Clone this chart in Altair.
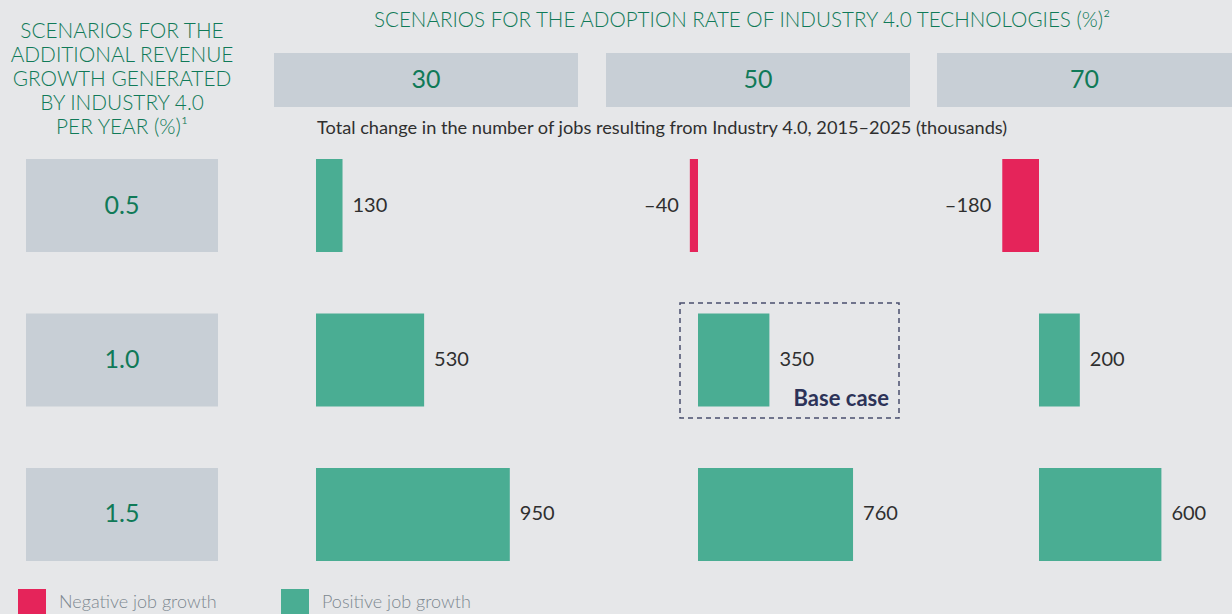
import altair as alt
import pandas as pd

# ---------------- data ----------------
adoption_rates = ["30", "50", "70"]          # % adoption scenarios (columns)
revenue_growth = ["0.5", "1.0", "1.5"]       # % additional revenue growth (rows)
jobs_row_05 = [130, -40, -180]
jobs_row_10 = [530, 350, 200]
jobs_row_15 = [950, 760, 600]
legend_labels = ["Negative job growth", "Positive job growth"]

# ---------------- layout / style ----------------
W, H = 1232, 614
PX_PER_K = 0.204                      # pixels per thousand jobs
COL_BOX_PX = {"30": (274, 578), "50": (606, 910), "70": (937, 1232)}
BAR_ANCHOR_PX = {"30": 316, "50": 698, "70": 1039}
ROW_RANGE = [159, 561]
FONT = "Lato"
LIGHT = 300
BG = "#e6e7e9"
BOX = "#c8cfd6"
GREEN_TXT = "#107a58"
RED = "#e5245a"
GREEN = "#4aad93"
DARK = "#2f2f2f"

U = 1.0 / PX_PER_K   # units per pixel

rows = []
for g, vals in zip(revenue_growth, [jobs_row_05, jobs_row_10, jobs_row_15]):
    for a, v in zip(adoption_rates, vals):
        x0 = BAR_ANCHOR_PX[a] * U
        rows.append({
            "growth": g, "adoption": a, "jobs": v,
            "x0": x0, "x1": x0 + v,
            "sign": legend_labels[0] if v < 0 else legend_labels[1],
            "label": ("–" + str(abs(v))) if v < 0 else str(v),
        })
df = pd.DataFrame(rows)

hdr = pd.DataFrame({
    "adoption": adoption_rates,
    "xl": [COL_BOX_PX[a][0] * U for a in adoption_rates],
    "xr": [COL_BOX_PX[a][1] * U for a in adoption_rates],
})
hdr["xc"] = (hdr["xl"] + hdr["xr"]) / 2

rowdf = pd.DataFrame({"growth": revenue_growth})

xscale = alt.Scale(domain=[0, W * U], range=[0, W], nice=False, zero=False)
yscale = alt.Scale(domain=revenue_growth, range=ROW_RANGE,
                   paddingInner=0.398, paddingOuter=0)

X = lambda f: alt.X(f, type="quantitative", scale=xscale, axis=None)
Y = alt.Y("growth:N", scale=yscale, axis=None)

one = alt.Data(values=[{}])

# header boxes + numbers
hdr_box = alt.Chart(hdr).mark_rect(color=BOX).encode(
    x=X("xl"), x2="xr", y=alt.value(53), y2=alt.value(107))
hdr_txt = alt.Chart(hdr).mark_text(font=FONT, fontSize=25, color=GREEN_TXT,
                                   baseline="middle").encode(
    x=X("xc"), y=alt.value(80), text="adoption:N")

# row label boxes + numbers
row_box = alt.Chart(rowdf).mark_rect(color=BOX).encode(
    x=alt.value(26), x2=alt.value(218), y=Y)
row_txt = alt.Chart(rowdf).mark_text(font=FONT, fontSize=25, color=GREEN_TXT,
                                     baseline="middle").encode(
    x=alt.value(122), y=Y, text="growth:N")

# bars
bars = alt.Chart(df).mark_rect().encode(
    x=X("x0"), x2="x1", y=Y,
    color=alt.Color("sign:N",
                    scale=alt.Scale(domain=legend_labels, range=[RED, GREEN]),
                    legend=alt.Legend(title=None, orient="none", legendX=18, legendY=589,
                                      direction="horizontal", symbolType="square",
                                      symbolSize=784, symbolStrokeWidth=0,
                                      symbolOpacity=1, labelFont=FONT,
                                      labelFontWeight=LIGHT,
                                      labelFontSize=18, labelColor="#7d8790",
                                      labelOffset=13, columnPadding=64,
                                      labelLimit=300)),
)

pos_lbl = alt.Chart(df).transform_filter("datum.jobs >= 0").mark_text(
    font=FONT, fontSize=20, color=DARK, align="left", dx=10,
    baseline="middle").encode(
    x=X("x1"), y=Y, text="label:N")
neg_lbl = alt.Chart(df).transform_filter("datum.jobs < 0").mark_text(
    font=FONT, fontSize=20, color=DARK, align="right", dx=-11,
    baseline="middle").encode(
    x=X("x1"), y=Y, text="label:N")

# titles
top_title = alt.Chart(one).mark_text(
    font=FONT, fontSize=20.6, fontWeight=LIGHT, color=GREEN_TXT, align="center",
    baseline="middle").encode(
    x=alt.value(742), y=alt.value(21),
    text=alt.value("SCENARIOS FOR THE ADOPTION RATE OF INDUSTRY 4.0 TECHNOLOGIES (%)²"))
left_title = alt.Chart(one).mark_text(
    font=FONT, fontSize=20.8, fontWeight=LIGHT, color=GREEN_TXT, align="center",
    baseline="middle", lineHeight=24).encode(
    x=alt.value(122), y=alt.value(32),
    text=alt.value(["SCENARIOS FOR THE", "ADDITIONAL REVENUE", "GROWTH GENERATED",
                    "BY INDUSTRY 4.0", "PER YEAR (%)¹"]))
subtitle = alt.Chart(one).mark_text(
    font=FONT, fontSize=18.2, color=DARK, align="left",
    baseline="middle").encode(
    x=alt.value(317), y=alt.value(129),
    text=alt.value("Total change in the number of jobs resulting from Industry 4.0, 2015–2025 (thousands)"))

# base case box
base_box = alt.Chart(one).mark_rect(fill=None, stroke="#4a4f6e", strokeWidth=1.5,
                                    strokeDash=[5, 4]).encode(
    x=alt.value(680), x2=alt.value(899), y=alt.value(303), y2=alt.value(418))
base_txt = alt.Chart(one).mark_text(
    font=FONT, fontSize=22, fontWeight="bold", color="#2d3358", align="right",
    baseline="alphabetic").encode(
    x=alt.value(889), y=alt.value(406), text=alt.value("Base case"))

chart = alt.layer(
    hdr_box, hdr_txt, row_box, row_txt, bars, pos_lbl, neg_lbl,
    top_title, left_title, subtitle, base_box, base_txt,
).properties(
    width=W, height=H, padding=0, autosize=alt.AutoSizeParams(type="none"),
    background=BG,
).configure_view(stroke=None)

chart.save("out.html", embed_options={"renderer": "svg", "actions": False})
